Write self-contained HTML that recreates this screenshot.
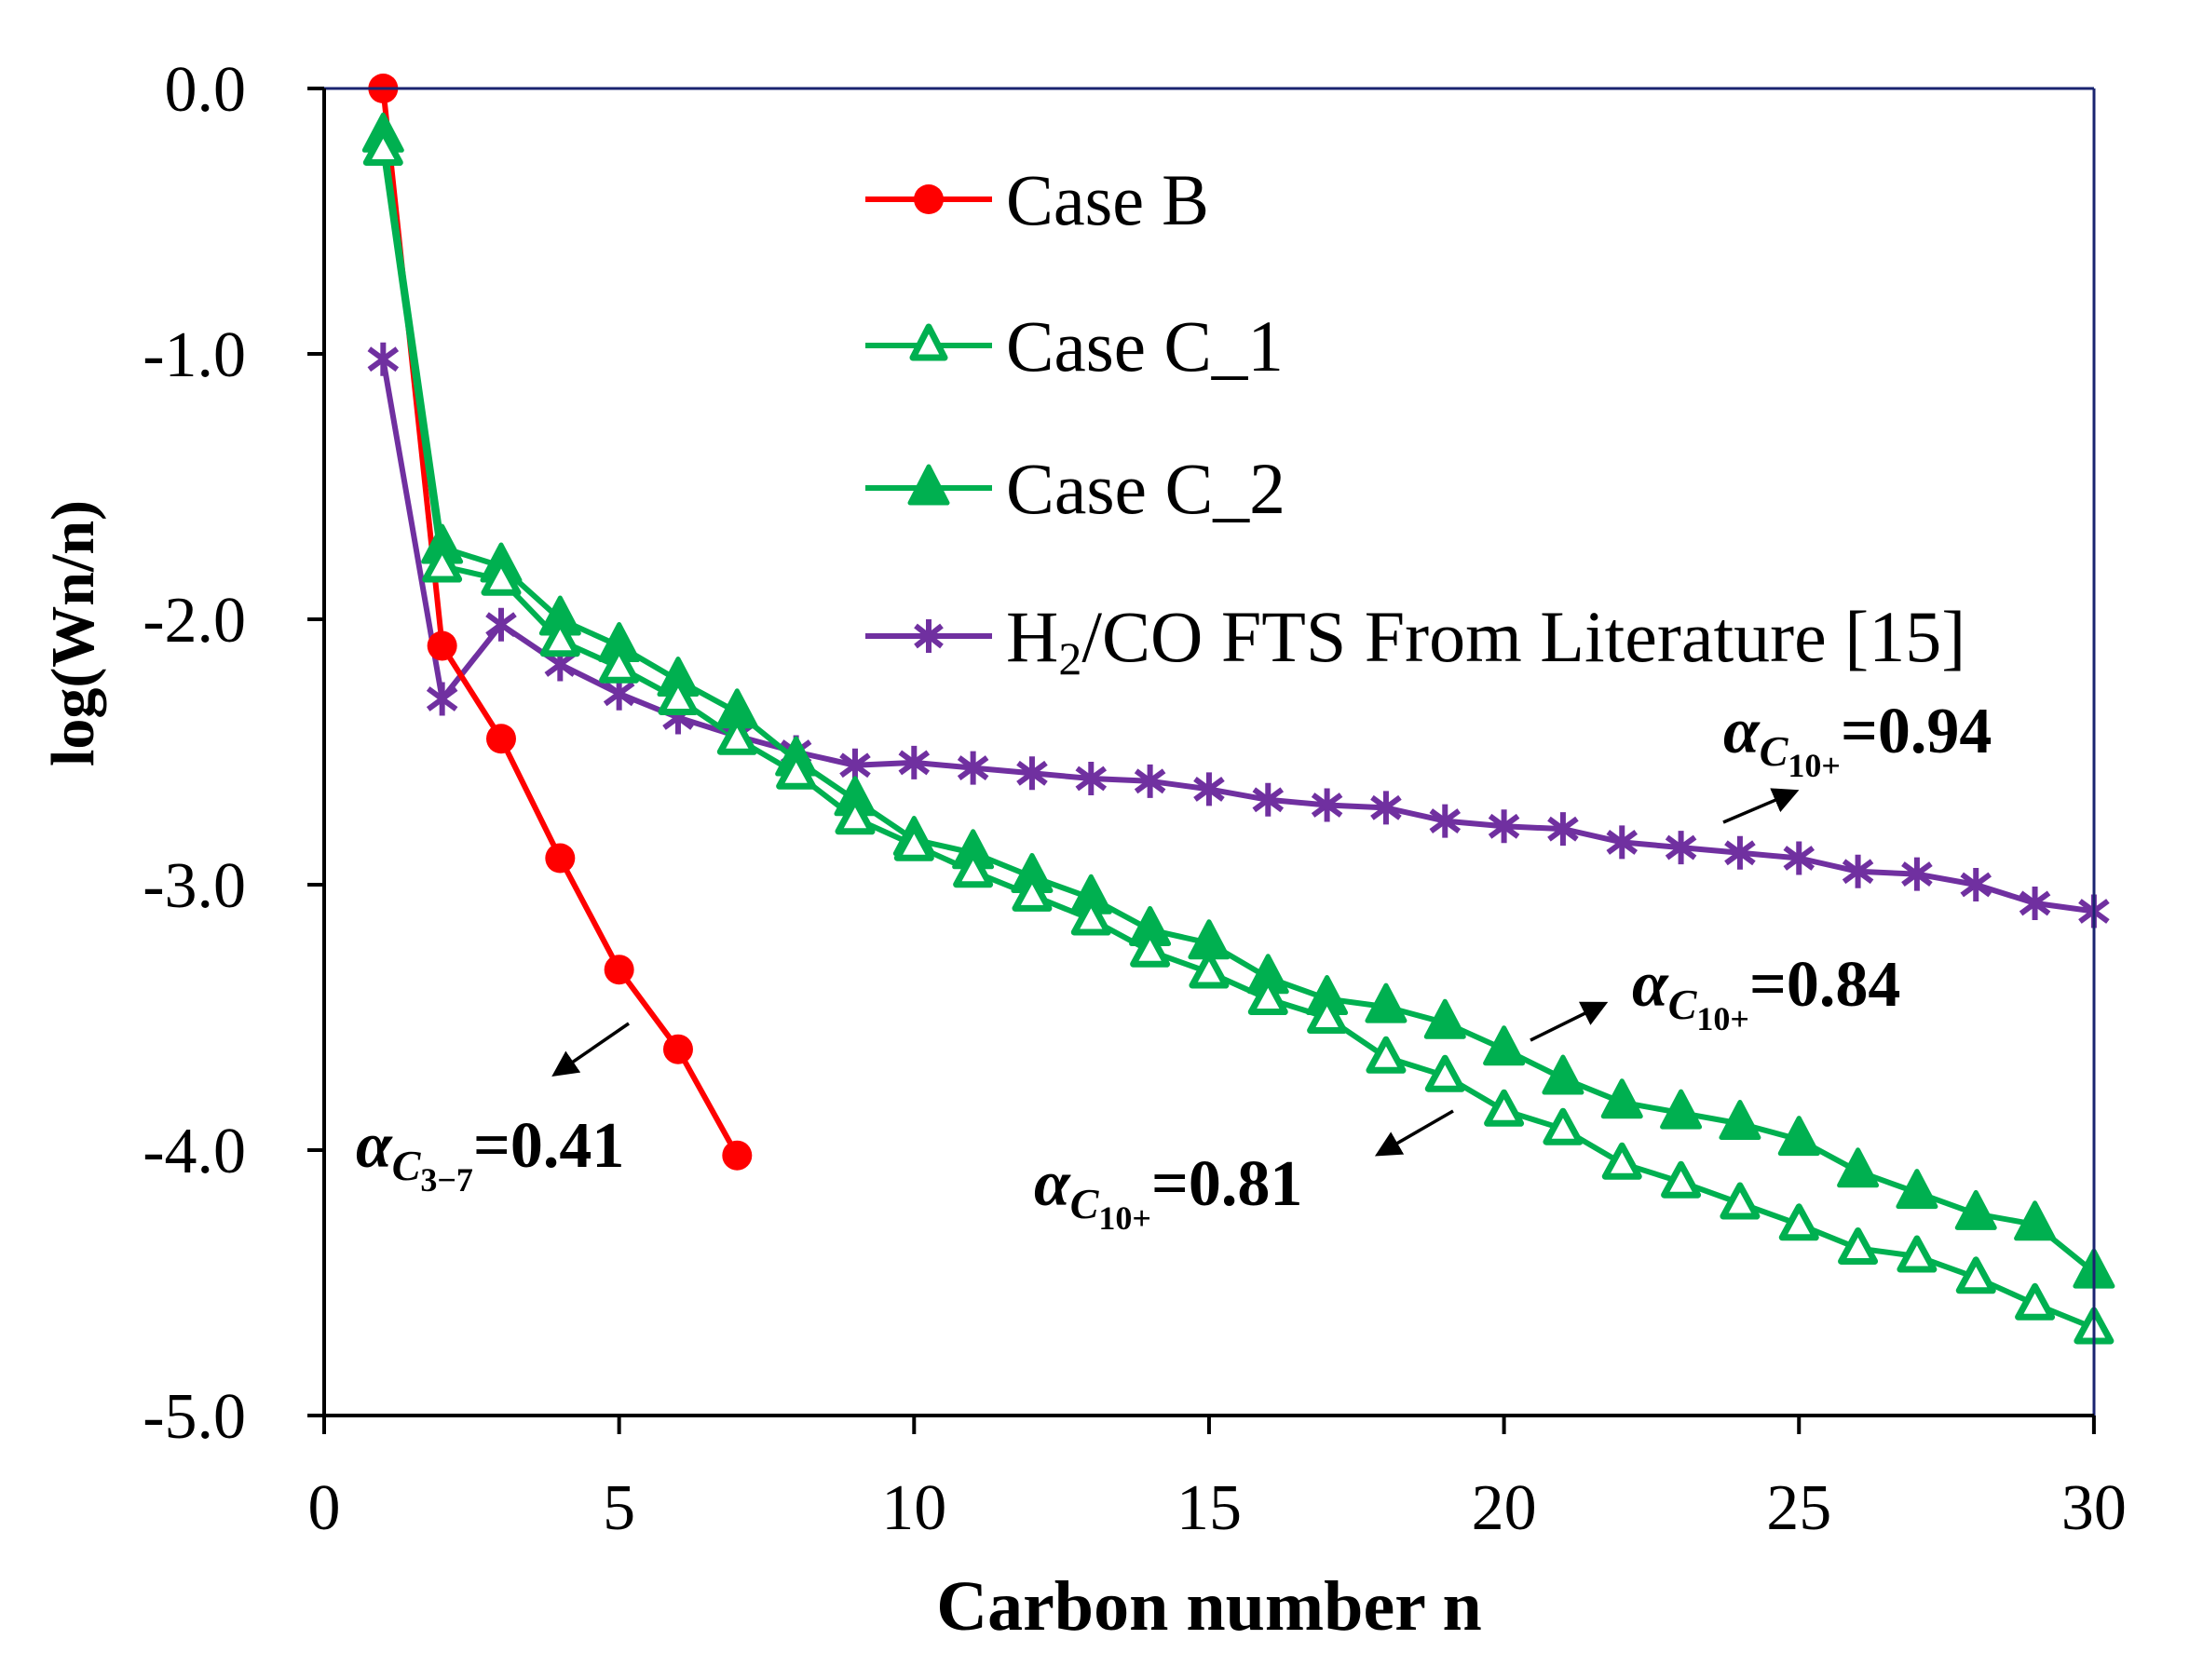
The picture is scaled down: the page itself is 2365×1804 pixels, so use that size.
<!DOCTYPE html>
<html><head><meta charset="utf-8"><style>
html,body{margin:0;padding:0;background:#fff;}
svg{display:block;}
text{font-family:"Liberation Serif",serif;}
</style></head><body>
<svg id="s" width="2365" height="1804" viewBox="0 0 2365 1804" xmlns="http://www.w3.org/2000/svg">
<rect width="2365" height="1804" fill="#fff"/>
<g id="plot"></g>
<line x1="348" y1="95" x2="2248" y2="95" stroke="#1a2470" stroke-width="3"/>
<line x1="2248" y1="95" x2="2248" y2="1520" stroke="#1a2470" stroke-width="3"/>
<line x1="348" y1="95" x2="348" y2="1520" stroke="#000" stroke-width="4"/>
<line x1="348" y1="1520" x2="2248" y2="1520" stroke="#000" stroke-width="4"/>
<g id="ticks" stroke="#000" stroke-width="4"></g>
<g font-size="70" text-anchor="end" id="ylab"></g>
<g font-size="70" text-anchor="middle" id="xlab"></g>
<text x="1298" y="1750" font-size="76" font-weight="bold" text-anchor="middle">Carbon number n</text>
<text transform="translate(100,680) rotate(-90)" font-size="66" font-weight="bold" text-anchor="middle">log(Wn/n)</text>
<g font-size="78">
<line x1="929" y1="214" x2="1065" y2="214" stroke="#ff0000" stroke-width="6"/>
<circle cx="997" cy="214" r="16" fill="#ff0000"/>
<text x="1080" y="241" textLength="218" lengthAdjust="spacingAndGlyphs">Case B</text>
<line x1="929" y1="371" x2="1065" y2="371" stroke="#00b050" stroke-width="6"/>
<path d="M997,351 L1014,384 L980,384 Z" fill="#fff" stroke="#00b050" stroke-width="7" stroke-linejoin="round"/>
<text x="1080" y="398" textLength="298" lengthAdjust="spacingAndGlyphs">Case C_1</text>
<line x1="929" y1="524" x2="1065" y2="524" stroke="#00b050" stroke-width="6"/>
<path d="M997,501 L1017,540 L977,540 Z" fill="#00b050" stroke="#00b050" stroke-width="5" stroke-linejoin="round"/>
<text x="1080" y="551" textLength="300" lengthAdjust="spacingAndGlyphs">Case C_2</text>
<line x1="929" y1="683" x2="1065" y2="683" stroke="#7030a0" stroke-width="6"/>
<g stroke="#7030a0" stroke-width="6"><line x1="997" y1="665" x2="997" y2="701"/><line x1="983" y1="672" x2="1011" y2="694"/><line x1="983" y1="694" x2="1011" y2="672"/></g>
<text x="1080" y="710">H<tspan font-size="50" dy="14">2</tspan><tspan dy="-14">/CO FTS From Literature [15]</tspan></text>
</g>
<defs><marker id="ah" markerWidth="8" markerHeight="8" refX="6" refY="4" orient="auto" markerUnits="strokeWidth"><path d="M0,0 L8,4 L0,8 Z" fill="#000"/></marker></defs>
<g stroke="#000" stroke-width="3.5" marker-end="url(#ah)">
<line x1="675" y1="1099" x2="598" y2="1152"/>
<line x1="1560" y1="1193" x2="1482" y2="1238"/>
<line x1="1643" y1="1117" x2="1720" y2="1079"/>
<line x1="1850" y1="883" x2="1925" y2="851"/>
</g>
<g font-size="70" font-weight="bold">
<text x="382" y="1253"><tspan font-style="italic">α</tspan><tspan font-style="italic" font-size="46" dy="14">C</tspan><tspan font-size="36" dy="12">3−7</tspan><tspan dy="-26">=0.41</tspan></text>
<text x="1110" y="1294"><tspan font-style="italic">α</tspan><tspan font-style="italic" font-size="46" dy="14">C</tspan><tspan font-size="36" dy="12">10+</tspan><tspan dy="-26">=0.81</tspan></text>
<text x="1752" y="1080"><tspan font-style="italic">α</tspan><tspan font-style="italic" font-size="46" dy="14">C</tspan><tspan font-size="36" dy="12">10+</tspan><tspan dy="-26">=0.84</tspan></text>
<text x="1850" y="808"><tspan font-style="italic">α</tspan><tspan font-style="italic" font-size="46" dy="14">C</tspan><tspan font-size="36" dy="12">10+</tspan><tspan dy="-26">=0.94</tspan></text>
</g>
</svg>
<script>
var NS="http://www.w3.org/2000/svg";
function X(n){return 348+n*63.33;}function Y(v){return 95-v*285;}
function el(p,t,a){var e=document.createElementNS(NS,t);for(var k in a)e.setAttribute(k,a[k]);p.appendChild(e);return e;}
var tk=document.getElementById('ticks');
for(var i=0;i<=5;i++){el(tk,'line',{x1:330,y1:Y(-i),x2:348,y2:Y(-i)});
 var t=el(document.getElementById('ylab'),'text',{x:264,y:Y(-i)+24});t.textContent=(i==0?'':'-')+i+'.0';}
for(var j=0;j<=30;j+=5){el(tk,'line',{x1:X(j),y1:1520,x2:X(j),y2:1540});
 var t=el(document.getElementById('xlab'),'text',{x:X(j),y:1642});t.textContent=j;}
var B=[0,-2.1,-2.45,-2.9,-3.32,-3.62,-4.02];
var C1=[-0.23,-1.8,-1.85,-2.08,-2.18,-2.3,-2.45,-2.58,-2.75,-2.85,-2.95,-3.04,-3.13,-3.25,-3.33,-3.43,-3.5,-3.65,-3.72,-3.85,-3.92,-4.05,-4.12,-4.2,-4.28,-4.37,-4.4,-4.48,-4.58,-4.67];
var C2=[-0.18,-1.73,-1.8,-2.0,-2.1,-2.23,-2.35,-2.53,-2.68,-2.83,-2.88,-2.97,-3.05,-3.17,-3.22,-3.35,-3.43,-3.46,-3.52,-3.62,-3.73,-3.82,-3.86,-3.9,-3.96,-4.08,-4.16,-4.24,-4.28,-4.46];
var L=[-1.02,-2.3,-2.02,-2.17,-2.28,-2.37,-2.44,-2.5,-2.55,-2.54,-2.56,-2.58,-2.6,-2.61,-2.64,-2.68,-2.7,-2.71,-2.76,-2.78,-2.79,-2.84,-2.86,-2.88,-2.9,-2.95,-2.96,-3.0,-3.07,-3.1];
var g=document.getElementById('plot');
function line(d,c){var p=d.map(function(v,i){return X(i+1).toFixed(1)+','+Y(v).toFixed(1)}).join(' ');
 el(g,'polyline',{points:p,fill:'none',stroke:c,'stroke-width':6,'stroke-linejoin':'round'});}
line(L,'#7030a0');line(B,'#ff0000');line(C1,'#00b050');line(C2,'#00b050');
L.forEach(function(v,i){var x=X(i+1),y=Y(v);var s=el(g,'g',{stroke:'#7030a0','stroke-width':6});
 el(s,'line',{x1:x,y1:y-18,x2:x,y2:y+18});el(s,'line',{x1:x-15,y1:y-11,x2:x+15,y2:y+11});el(s,'line',{x1:x-15,y1:y+11,x2:x+15,y2:y-11});});
B.forEach(function(v,i){el(g,'circle',{cx:X(i+1),cy:Y(v),r:16,fill:'#ff0000'});});
C2.forEach(function(v,i){var x=X(i+1),y=Y(v);el(g,'path',{d:'M'+x+','+(y-23)+' L'+(x+20)+','+(y+15)+' L'+(x-20)+','+(y+15)+' Z',fill:'#00b050',stroke:'#00b050','stroke-width':5,'stroke-linejoin':'round'});});
C1.forEach(function(v,i){var x=X(i+1),y=Y(v);el(g,'path',{d:'M'+x+','+(y-19)+' L'+(x+18)+','+(y+14)+' L'+(x-18)+','+(y+14)+' Z',fill:'#fff',stroke:'#00b050','stroke-width':7,'stroke-linejoin':'round'});});
</script>
</body></html>
